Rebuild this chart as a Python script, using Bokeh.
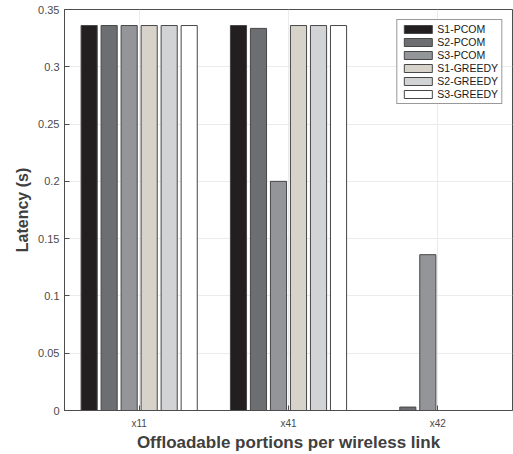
from bokeh.plotting import figure
from bokeh.models import (ColumnDataSource, FactorRange, Range1d, Legend,
                          LegendItem, FixedTicker, CustomJSTickFormatter)
from bokeh.transform import dodge
from bokeh.embed import file_html
from bokeh.resources import INLINE

categories = ["x11", "x41", "x42"]
series = ["S1-PCOM", "S2-PCOM", "S3-PCOM", "S1-GREEDY", "S2-GREEDY", "S3-GREEDY"]
s1_pcom = [0.336, 0.336, 0.0]
s2_pcom = [0.336, 0.3335, 0.003]
s3_pcom = [0.336, 0.200, 0.136]
s1_greedy = [0.336, 0.336, 0.0]
s2_greedy = [0.336, 0.336, 0.0]
s3_greedy = [0.336, 0.336, 0.0]
y_ticks = [0, 0.05, 0.1, 0.15, 0.2, 0.25, 0.3, 0.35]

colors = ["#231f20", "#6d6e71", "#939598", "#d7d3cb", "#d1d3d4", "#ffffff"]
values = [s1_pcom, s2_pcom, s3_pcom, s1_greedy, s2_greedy, s3_greedy]

data = {"cat": categories}
for name, vals in zip(series, values):
    data[name] = vals
source = ColumnDataSource(data)

FONT = "Liberation Sans"
AXIS_COLOR = "#4d4d4d"
TEXT_COLOR = "#4a4a4a"

p = figure(width=513, height=454, x_range=FactorRange(*categories),
           y_range=Range1d(0, 0.35), output_backend="svg", toolbar_location=None,
           min_border_left=64, min_border_right=1, min_border_top=9,
           min_border_bottom=41)
p.background_fill_color = "white"
p.border_fill_color = "white"
p.outline_line_color = AXIS_COLOR
p.outline_line_width = 1

pitch = 0.134
width = 0.108
items = []
for i, (name, col) in enumerate(zip(series, colors)):
    off = (i - 2.5) * pitch
    r = p.vbar(x=dodge("cat", off, range=p.x_range), top=name, width=width,
               source=source, fill_color=col, line_color="#474747", line_width=1)
    items.append(LegendItem(label=name, renderers=[r]))

fmt = CustomJSTickFormatter(code="return (Math.round(tick*100)/100).toString();")

ya = p.yaxis[0]
ya.ticker = FixedTicker(ticks=y_ticks)
ya.formatter = fmt
ya.major_tick_in = 5
ya.major_tick_out = 0
ya.minor_tick_in = 0
ya.minor_tick_out = 0
ya.major_label_standoff = 5
ya.axis_line_color = AXIS_COLOR
ya.major_tick_line_color = AXIS_COLOR
ya.major_label_text_font = FONT
ya.major_label_text_font_size = "11px"
ya.major_label_text_color = TEXT_COLOR
ya.axis_label = "Latency (s)"
ya.axis_label_text_font = FONT
ya.axis_label_text_font_style = "bold"
ya.axis_label_text_font_size = "16px"
ya.axis_label_text_color = "#404040"
ya.axis_label_standoff = 4

xa = p.xaxis[0]
xa.major_tick_in = 5
xa.major_tick_out = 0
xa.major_label_standoff = 7
xa.axis_line_color = AXIS_COLOR
xa.major_tick_line_color = AXIS_COLOR
xa.major_label_text_font = FONT
xa.major_label_text_font_size = "10px"
xa.major_label_text_color = TEXT_COLOR
xa.axis_label = "Offloadable portions per wireless link"
xa.axis_label_text_font = FONT
xa.axis_label_text_font_style = "bold"
xa.axis_label_text_font_size = "17px"
xa.axis_label_text_color = "#404040"
xa.axis_label_standoff = 1

p.xgrid.grid_line_color = "#ebebeb"
p.ygrid.grid_line_color = "#ebebeb"
p.ygrid.ticker = FixedTicker(ticks=y_ticks)

legend = Legend(items=items, location="top_right")
legend.glyph_width = 35
legend.glyph_height = 10
legend.label_height = 12
legend.spacing = 1
legend.padding = 3
legend.margin = 10
legend.label_standoff = 2
legend.label_text_font = FONT
legend.label_text_font_size = "10.5px"
legend.label_text_color = "#1a1a1a"
legend.border_line_color = "#333333"
legend.border_line_width = 1
legend.background_fill_alpha = 1
p.add_layout(legend, "center")

open("out.html", "w").write(file_html(p, INLINE))
